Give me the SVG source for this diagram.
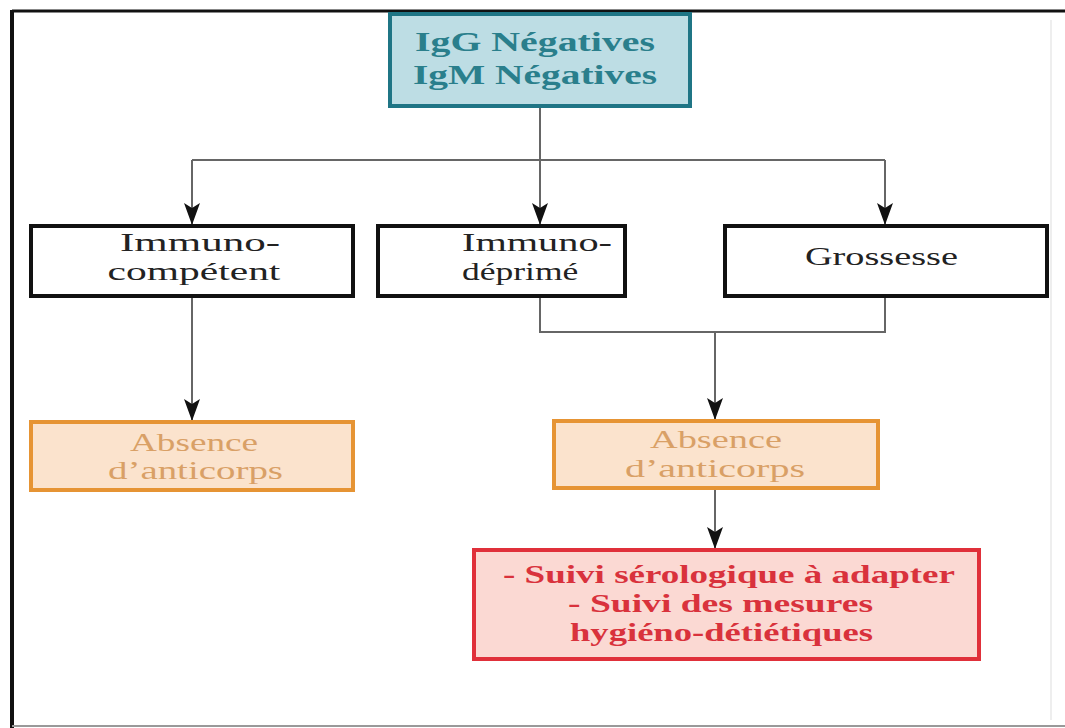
<svg xmlns="http://www.w3.org/2000/svg" width="1065" height="728" viewBox="0 0 1065 728">
<defs>
<marker id="ah" markerWidth="22" markerHeight="16" refX="21" refY="8" orient="auto" markerUnits="userSpaceOnUse" viewBox="0 0 22 16">
<path d="M0,0 L5,8 L0,16 L22,8 Z" fill="#111"/>
</marker>
</defs>
<style>
text{font-family:"Liberation Serif","Times New Roman",serif;text-anchor:start;}
.t{font-size:25px;fill:#222;}
.top{font-size:27px;font-weight:bold;fill:#2a7f8c;}
.abs{font-size:25px;fill:#d9a066;}
.red{font-size:25px;font-weight:bold;fill:#d9323c;}
.bx{fill:#fff;stroke:#111;stroke-width:4;}
.conn{fill:none;stroke:#666;stroke-width:2;}
</style>
<rect width="1065" height="728" fill="#fff"/>
<g id="frame">
<line x1="12" y1="11" x2="1065" y2="11" stroke="#111" stroke-width="3"/>
<line x1="12" y1="10" x2="12" y2="728" stroke="#111" stroke-width="4"/>
<line x1="12" y1="726" x2="1065" y2="726" stroke="#999" stroke-width="2"/>
<line x1="1051" y1="20" x2="1051" y2="720" stroke="#eee" stroke-width="2"/>
</g>
<g id="connectors">
<path class="conn" d="M540,108 V160"/>
<path class="conn" d="M192,160 H885"/>
<path class="conn" d="M192,160 V224" marker-end="url(#ah)"/>
<path class="conn" d="M540,160 V224" marker-end="url(#ah)"/>
<path class="conn" d="M885,160 V224" marker-end="url(#ah)"/>
<path class="conn" d="M192,296 V420" marker-end="url(#ah)"/>
<path class="conn" d="M540,296 V332 H885 V296"/>
<path class="conn" d="M715,332 V419" marker-end="url(#ah)"/>
<path class="conn" d="M715,489 V548" marker-end="url(#ah)"/>
</g>
<g id="n-top">
<rect x="390" y="14" width="300" height="92" fill="#bddde4" stroke="#1f7585" stroke-width="4"/>
<text class="top" x="415" y="51" textLength="240" lengthAdjust="spacingAndGlyphs">IgG Négatives</text>
<text class="top" x="413" y="84" textLength="244" lengthAdjust="spacingAndGlyphs">IgM Négatives</text>
</g>
<g id="n-competent">
<rect class="bx" x="31" y="226" width="322" height="70"/>
<text class="t" x="120" y="251" textLength="160" lengthAdjust="spacingAndGlyphs">Immuno-</text>
<text class="t" transform="translate(194,280) scale(1.66,1)" x="0" y="0" style="text-anchor:middle">compétent</text>
</g>
<g id="n-deprime">
<rect class="bx" x="378" y="226" width="247" height="70"/>
<text class="t" x="462" y="251" textLength="150" lengthAdjust="spacingAndGlyphs">Immuno-</text>
<text class="t" transform="translate(462,280) scale(1.42,1)" x="0" y="0">déprimé</text>
</g>
<g id="n-grossesse">
<rect class="bx" x="725" y="226" width="322" height="70"/>
<text class="t" x="805" y="265" textLength="153" lengthAdjust="spacingAndGlyphs">Grossesse</text>
</g>
<g id="n-absence1">
<rect x="31" y="422" width="322" height="68" fill="#fbe3cd" stroke="#e69434" stroke-width="4"/>
<text class="abs" x="130" y="451" textLength="128" lengthAdjust="spacingAndGlyphs">Absence</text>
<text class="abs" x="108" y="479" textLength="175" lengthAdjust="spacingAndGlyphs">d’anticorps</text>
</g>
<g id="n-absence2">
<rect x="554" y="421" width="324" height="67" fill="#fbe3cd" stroke="#e69434" stroke-width="4"/>
<text class="abs" x="650" y="448" textLength="132" lengthAdjust="spacingAndGlyphs">Absence</text>
<text class="abs" x="625" y="477" textLength="180" lengthAdjust="spacingAndGlyphs">d’anticorps</text>
</g>
<g id="n-suivi">
<rect x="474" y="550" width="505" height="109" fill="#fbd9d3" stroke="#e0303a" stroke-width="4"/>
<text class="red" x="503" y="583" textLength="452" lengthAdjust="spacingAndGlyphs">- Suivi sérologique à adapter</text>
<text class="red" x="568" y="612" textLength="305" lengthAdjust="spacingAndGlyphs">- Suivi des mesures</text>
<text class="red" x="570" y="641" textLength="303" lengthAdjust="spacingAndGlyphs">hygiéno-détiétiques</text>
</g>
</svg>
